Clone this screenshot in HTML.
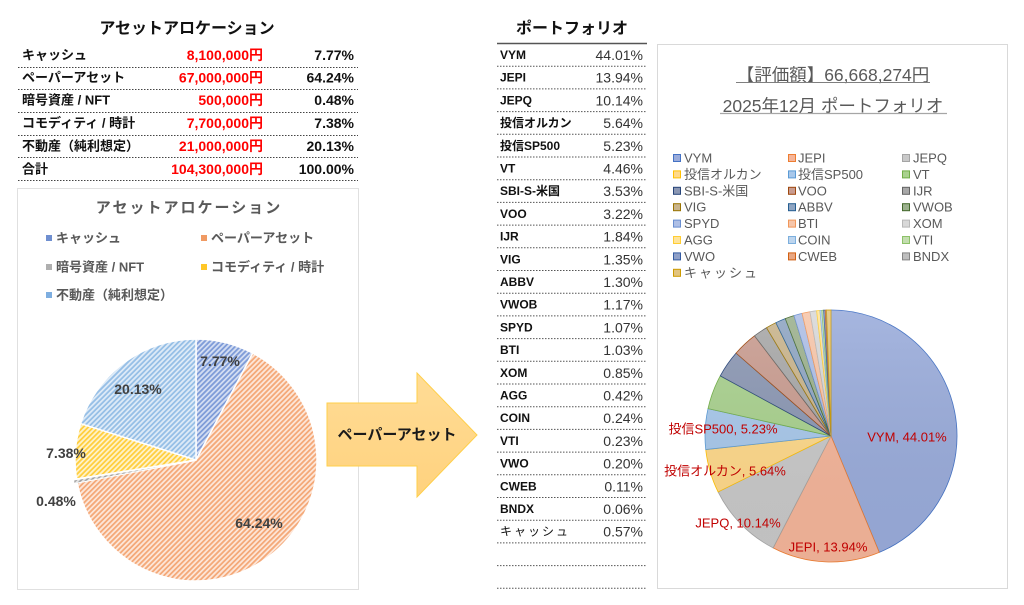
<!DOCTYPE html>
<html><head><meta charset="utf-8"><style>
html,body{margin:0;padding:0;background:#fff;}
svg{display:block;font-family:"Liberation Sans","Noto Sans CJK JP",sans-serif;}
</style></head><body>
<svg width="1024" height="605" viewBox="0 0 1024 605" xmlns="http://www.w3.org/2000/svg">
<defs>
<pattern id="hB" width="3.6" height="3.6" patternUnits="userSpaceOnUse" patternTransform="rotate(45)"><rect width="3.6" height="3.6" fill="#D3DDF2"/><rect width="1.8" height="3.6" fill="#7F9CD8"/></pattern>
<pattern id="hO" width="3.6" height="3.6" patternUnits="userSpaceOnUse" patternTransform="rotate(45)"><rect width="3.6" height="3.6" fill="#FDE6D8"/><rect width="1.8" height="3.6" fill="#F4A979"/></pattern>
<pattern id="hG" width="3.6" height="3.6" patternUnits="userSpaceOnUse" patternTransform="rotate(45)"><rect width="3.6" height="3.6" fill="#E6E6E6"/><rect width="1.8" height="3.6" fill="#A5A5A5"/></pattern>
<pattern id="hY" width="3.6" height="3.6" patternUnits="userSpaceOnUse" patternTransform="rotate(45)"><rect width="3.6" height="3.6" fill="#FFF2C8"/><rect width="1.8" height="3.6" fill="#FFCF40"/></pattern>
<pattern id="hL" width="3.6" height="3.6" patternUnits="userSpaceOnUse" patternTransform="rotate(45)"><rect width="3.6" height="3.6" fill="#DDEAF7"/><rect width="1.8" height="3.6" fill="#96BFE6"/></pattern>
<linearGradient id="arr" x1="0" y1="0" x2="0" y2="1"><stop offset="0" stop-color="#FFDC96"/><stop offset="1" stop-color="#FFD27E"/></linearGradient>
<linearGradient id="shade" x1="0" y1="0" x2="0" y2="1"><stop offset="0" stop-color="#fff" stop-opacity="0.12"/><stop offset="1" stop-color="#000" stop-opacity="0.04"/></linearGradient>
</defs>

<!-- LEFT TABLE -->
<text x="187" y="29" font-size="16" font-weight="bold" fill="#111" text-anchor="middle" dominant-baseline="central">アセットアロケーション</text>
<g font-size="13" font-weight="bold" dominant-baseline="central">
<text x="22" y="55" fill="#111">キャッシュ</text>
<text x="22" y="77.5" fill="#111">ペーパーアセット</text>
<text x="22" y="100" fill="#111">暗号資産 / NFT</text>
<text x="22" y="123" fill="#111">コモディティ / 時計</text>
<text x="22" y="146" fill="#111">不動産（純利想定）</text>
<text x="22" y="169" fill="#111">合計</text>
</g>
<g font-size="14" font-weight="bold" dominant-baseline="central" text-anchor="end">
<text x="263" y="55" fill="#FF0000">8,100,000円</text>
<text x="354" y="55" fill="#111">7.77%</text>
<text x="263" y="77.5" fill="#FF0000">67,000,000円</text>
<text x="354" y="77.5" fill="#111">64.24%</text>
<text x="263" y="100" fill="#FF0000">500,000円</text>
<text x="354" y="100" fill="#111">0.48%</text>
<text x="263" y="123" fill="#FF0000">7,700,000円</text>
<text x="354" y="123" fill="#111">7.38%</text>
<text x="263" y="146" fill="#FF0000">21,000,000円</text>
<text x="354" y="146" fill="#111">20.13%</text>
<text x="263" y="169" fill="#FF0000">104,300,000円</text>
<text x="354" y="169" fill="#111">100.00%</text>
</g>
<g stroke="#444" stroke-width="1" stroke-dasharray="1.5,1.5">
<line x1="18" y1="67.5" x2="358" y2="67.5"/>
<line x1="18" y1="89.5" x2="358" y2="89.5"/>
<line x1="18" y1="112.5" x2="358" y2="112.5"/>
<line x1="18" y1="135.5" x2="358" y2="135.5"/>
<line x1="18" y1="157.5" x2="358" y2="157.5"/>
<line x1="18" y1="180.5" x2="358" y2="180.5"/>
</g>

<!-- LEFT CHART -->
<rect x="17.5" y="188.5" width="341" height="401" fill="#fff" stroke="#E0E0E0" stroke-width="1"/>
<text x="189" y="208" font-size="15" font-weight="bold" fill="#595959" text-anchor="middle" dominant-baseline="central" letter-spacing="2">アセットアロケーション</text>
<g font-size="13" font-weight="bold" fill="#595959" dominant-baseline="central">
<rect x="46" y="235" width="6" height="6" fill="#6F8FD0"/><text x="56" y="238">キャッシュ</text>
<rect x="201" y="235" width="6" height="6" fill="#F09A63"/><text x="211" y="238">ペーパーアセット</text>
<rect x="46" y="264" width="6" height="6" fill="#AFAFAF"/><text x="56" y="267">暗号資産 / NFT</text>
<rect x="201" y="264" width="6" height="6" fill="#FFC727"/><text x="211" y="267">コモディティ / 時計</text>
<rect x="46" y="292" width="6" height="6" fill="#7EAEE0"/><text x="56" y="295">不動産（純利想定）</text>
</g>
<g stroke="#fff" stroke-width="1.5" stroke-linejoin="round">
<path d="M196,460 L196,339 A121,121 0 0 1 252.75,353.13 Z" fill="url(#hB)"/>
<path d="M196,460 L252.75,353.13 A121,121 0 1 1 77.13,482.59 Z" fill="url(#hO)"/>
<path d="M193,461 L74.13,483.59 A121,121 0 0 1 73.50,480.01 Z" fill="url(#hG)" stroke="#fff" stroke-width="1"/>
<path d="M196,460 L76.50,479.01 A121,121 0 0 1 80.61,423.55 Z" fill="url(#hY)"/>
<path d="M196,460 L80.61,423.55 A121,121 0 0 1 196,339 Z" fill="url(#hL)"/>
</g>
<g font-size="14" font-weight="bold" fill="#404040" text-anchor="middle" dominant-baseline="central">
<text x="220" y="361">7.77%</text>
<text x="138" y="389">20.13%</text>
<text x="66" y="453">7.38%</text>
<text x="56" y="501">0.48%</text>
<text x="259" y="523">64.24%</text>
</g>

<!-- ARROW -->
<polygon points="327,403 417,403 417,373 477,435 417,497 417,466 327,466" fill="url(#arr)" stroke="#FFCF4A" stroke-width="1"/>
<text x="397" y="435" font-size="15" font-weight="bold" fill="#1a1a1a" text-anchor="middle" dominant-baseline="central">ペーパーアセット</text>

<!-- PORTFOLIO TABLE -->
<text x="572" y="29" font-size="16" font-weight="bold" fill="#111" text-anchor="middle" dominant-baseline="central">ポートフォリオ</text>
<line x1="497" y1="43.5" x2="647" y2="43.5" stroke="#555" stroke-width="1.5"/>
<g font-size="12" font-weight="bold" fill="#111" dominant-baseline="central">
<text x="500" y="55">VYM</text>
<text x="500" y="77.7">JEPI</text>
<text x="500" y="100.4">JEPQ</text>
<text x="500" y="123.1">投信オルカン</text>
<text x="500" y="145.8">投信SP500</text>
<text x="500" y="168.5">VT</text>
<text x="500" y="191.2">SBI-S-米国</text>
<text x="500" y="213.9">VOO</text>
<text x="500" y="236.6">IJR</text>
<text x="500" y="259.3">VIG</text>
<text x="500" y="282">ABBV</text>
<text x="500" y="304.7">VWOB</text>
<text x="500" y="327.4">SPYD</text>
<text x="500" y="350.1">BTI</text>
<text x="500" y="372.8">XOM</text>
<text x="500" y="395.5">AGG</text>
<text x="500" y="418.2">COIN</text>
<text x="500" y="440.9">VTI</text>
<text x="500" y="463.6">VWO</text>
<text x="500" y="486.3">CWEB</text>
<text x="500" y="509">BNDX</text>
<text x="500" y="531.7" font-weight="normal" letter-spacing="2">キャッシュ</text>
</g>
<g font-size="14" fill="#333" text-anchor="end" dominant-baseline="central">
<text x="643" y="55">44.01%</text>
<text x="643" y="77.7">13.94%</text>
<text x="643" y="100.4">10.14%</text>
<text x="643" y="123.1">5.64%</text>
<text x="643" y="145.8">5.23%</text>
<text x="643" y="168.5">4.46%</text>
<text x="643" y="191.2">3.53%</text>
<text x="643" y="213.9">3.22%</text>
<text x="643" y="236.6">1.84%</text>
<text x="643" y="259.3">1.35%</text>
<text x="643" y="282">1.30%</text>
<text x="643" y="304.7">1.17%</text>
<text x="643" y="327.4">1.07%</text>
<text x="643" y="350.1">1.03%</text>
<text x="643" y="372.8">0.85%</text>
<text x="643" y="395.5">0.42%</text>
<text x="643" y="418.2">0.24%</text>
<text x="643" y="440.9">0.23%</text>
<text x="643" y="463.6">0.20%</text>
<text x="643" y="486.3">0.11%</text>
<text x="643" y="509">0.06%</text>
<text x="643" y="531.7">0.57%</text>
</g>
<g stroke="#555" stroke-width="1" stroke-dasharray="1.5,1.5">
<line x1="497" y1="66.2" x2="647" y2="66.2"/>
<line x1="497" y1="88.9" x2="647" y2="88.9"/>
<line x1="497" y1="111.6" x2="647" y2="111.6"/>
<line x1="497" y1="134.3" x2="647" y2="134.3"/>
<line x1="497" y1="157" x2="647" y2="157"/>
<line x1="497" y1="179.7" x2="647" y2="179.7"/>
<line x1="497" y1="202.4" x2="647" y2="202.4"/>
<line x1="497" y1="225.1" x2="647" y2="225.1"/>
<line x1="497" y1="247.8" x2="647" y2="247.8"/>
<line x1="497" y1="270.5" x2="647" y2="270.5"/>
<line x1="497" y1="293.2" x2="647" y2="293.2"/>
<line x1="497" y1="315.9" x2="647" y2="315.9"/>
<line x1="497" y1="338.6" x2="647" y2="338.6"/>
<line x1="497" y1="361.3" x2="647" y2="361.3"/>
<line x1="497" y1="384" x2="647" y2="384"/>
<line x1="497" y1="406.7" x2="647" y2="406.7"/>
<line x1="497" y1="429.4" x2="647" y2="429.4"/>
<line x1="497" y1="452.1" x2="647" y2="452.1"/>
<line x1="497" y1="474.8" x2="647" y2="474.8"/>
<line x1="497" y1="497.5" x2="647" y2="497.5"/>
<line x1="497" y1="520.2" x2="647" y2="520.2"/>
<line x1="497" y1="542.9" x2="647" y2="542.9"/>
<line x1="497" y1="565.6" x2="647" y2="565.6"/>
<line x1="497" y1="588.3" x2="647" y2="588.3"/>
</g>

<!-- RIGHT CHART -->
<rect x="657.5" y="44.5" width="350" height="544" fill="#fff" stroke="#D9D9D9" stroke-width="1"/>
<text x="833" y="75" font-size="17.5" fill="#595959" text-anchor="middle" dominant-baseline="central">【評価額】66,668,274円</text>
<line x1="736" y1="82.5" x2="930" y2="82.5" stroke="#7f7f7f" stroke-width="1"/>
<text x="833" y="106" font-size="17.5" fill="#595959" text-anchor="middle" dominant-baseline="central">2025年12月 ポートフォリオ</text>
<line x1="720" y1="113.5" x2="947" y2="113.5" stroke="#a6a6a6" stroke-width="1.2"/>

<g font-size="13" fill="#595959" dominant-baseline="central" stroke-width="1">
<rect x="673.5" y="154.5" width="7" height="7" fill="#9AACDB" stroke="#4472C4"/><text x="684" y="158">VYM</text>
<rect x="788.5" y="154.5" width="7" height="7" fill="#F5B59A" stroke="#ED7D31"/><text x="798" y="158">JEPI</text>
<rect x="902.5" y="154.5" width="7" height="7" fill="#C9C9C9" stroke="#A5A5A5"/><text x="913" y="158">JEPQ</text>
<rect x="673.5" y="170.9" width="7" height="7" fill="#FFD98A" stroke="#FFC000"/><text x="684" y="174.4">投信オルカン</text>
<rect x="788.5" y="170.9" width="7" height="7" fill="#A8C8EB" stroke="#5B9BD5"/><text x="798" y="174.4">投信SP500</text>
<rect x="902.5" y="170.9" width="7" height="7" fill="#A9D18E" stroke="#70AD47"/><text x="913" y="174.4">VT</text>
<rect x="673.5" y="187.3" width="7" height="7" fill="#8B97B3" stroke="#264478"/><text x="684" y="190.8">SBI-S-米国</text>
<rect x="788.5" y="187.3" width="7" height="7" fill="#C99C90" stroke="#9E480E"/><text x="798" y="190.8">VOO</text>
<rect x="902.5" y="187.3" width="7" height="7" fill="#A8A8A8" stroke="#636363"/><text x="913" y="190.8">IJR</text>
<rect x="673.5" y="203.7" width="7" height="7" fill="#C9B48C" stroke="#997300"/><text x="684" y="207.2">VIG</text>
<rect x="788.5" y="203.7" width="7" height="7" fill="#8FA5C2" stroke="#255E91"/><text x="798" y="207.2">ABBV</text>
<rect x="902.5" y="203.7" width="7" height="7" fill="#9CB18E" stroke="#43682B"/><text x="913" y="207.2">VWOB</text>
<rect x="673.5" y="220.1" width="7" height="7" fill="#AEBFE6" stroke="#698ED0"/><text x="684" y="223.6">SPYD</text>
<rect x="788.5" y="220.1" width="7" height="7" fill="#F7C6AA" stroke="#F1975A"/><text x="798" y="223.6">BTI</text>
<rect x="902.5" y="220.1" width="7" height="7" fill="#D8D8D8" stroke="#B7B7B7"/><text x="913" y="223.6">XOM</text>
<rect x="673.5" y="236.5" width="7" height="7" fill="#FFE49A" stroke="#FFCD33"/><text x="684" y="240">AGG</text>
<rect x="788.5" y="236.5" width="7" height="7" fill="#BDD5EE" stroke="#7CAFDD"/><text x="798" y="240">COIN</text>
<rect x="902.5" y="236.5" width="7" height="7" fill="#C3DDAF" stroke="#8CC168"/><text x="913" y="240">VTI</text>
<rect x="673.5" y="252.9" width="7" height="7" fill="#8FA0C8" stroke="#335AA1"/><text x="684" y="256.4">VWO</text>
<rect x="788.5" y="252.9" width="7" height="7" fill="#E8A783" stroke="#D26012"/><text x="798" y="256.4">CWEB</text>
<rect x="902.5" y="252.9" width="7" height="7" fill="#BEBEBE" stroke="#848484"/><text x="913" y="256.4">BNDX</text>
<rect x="673.5" y="269.3" width="7" height="7" fill="#E2C47F" stroke="#CC9A00"/><text x="684" y="272.8" letter-spacing="2">キャッシュ</text>
</g>

<g stroke-width="0.8" stroke-linejoin="round">
<path d="M831,436 L831,310 A126,126 0 0 1 879.28,552.39 Z" fill="#9AACDB" stroke="#4472C4"/>
<path d="M831,436 L879.28,552.39 A126,126 0 0 1 773.09,547.90 Z" fill="#F5B59A" stroke="#ED7D31"/>
<path d="M831,436 L773.09,547.90 A126,126 0 0 1 718.10,491.94 Z" fill="#C9C9C9" stroke="#A5A5A5"/>
<path d="M831,436 L718.10,491.94 A126,126 0 0 1 705.73,449.57 Z" fill="#FFD98A" stroke="#FFC000"/>
<path d="M831,436 L705.73,449.57 A126,126 0 0 1 708.00,408.67 Z" fill="#A8C8EB" stroke="#5B9BD5"/>
<path d="M831,436 L708.00,408.67 A126,126 0 0 1 720.25,375.90 Z" fill="#A9D18E" stroke="#70AD47"/>
<path d="M831,436 L720.25,375.90 A126,126 0 0 1 736.08,353.13 Z" fill="#8B97B3" stroke="#264478"/>
<path d="M831,436 L736.08,353.13 A126,126 0 0 1 754.54,335.86 Z" fill="#C99C90" stroke="#9E480E"/>
<path d="M831,436 L754.54,335.86 A126,126 0 0 1 766.54,327.74 Z" fill="#A8A8A8" stroke="#636363"/>
<path d="M831,436 L766.54,327.74 A126,126 0 0 1 775.87,322.70 Z" fill="#C9B48C" stroke="#997300"/>
<path d="M831,436 L775.87,322.70 A126,126 0 0 1 785.25,318.59 Z" fill="#8FA5C2" stroke="#255E91"/>
<path d="M831,436 L785.25,318.59 A126,126 0 0 1 793.96,315.57 Z" fill="#9CB18E" stroke="#43682B"/>
<path d="M831,436 L793.96,315.57 A126,126 0 0 1 802.07,313.36 Z" fill="#AEBFE6" stroke="#698ED0"/>
<path d="M831,436 L802.07,313.36 A126,126 0 0 1 810.01,311.76 Z" fill="#F7C6AA" stroke="#F1975A"/>
<path d="M831,436 L810.01,311.76 A126,126 0 0 1 816.62,310.82 Z" fill="#D8D8D8" stroke="#B7B7B7"/>
<path d="M831,436 L816.62,310.82 A126,126 0 0 1 819.93,310.49 Z" fill="#FFE49A" stroke="#FFCD33"/>
<path d="M831,436 L819.93,310.49 A126,126 0 0 1 821.79,310.34 Z" fill="#BDD5EE" stroke="#7CAFDD"/>
<path d="M831,436 L821.79,310.34 A126,126 0 0 1 823.62,310.21 Z" fill="#C3DDAF" stroke="#8CC168"/>
<path d="M831,436 L823.62,310.21 A126,126 0 0 1 825.18,310.14 Z" fill="#8FA0C8" stroke="#335AA1"/>
<path d="M831,436 L825.18,310.14 A126,126 0 0 1 826.05,310.10 Z" fill="#E8A783" stroke="#D26012"/>
<path d="M831,436 L826.05,310.10 A126,126 0 0 1 826.51,310.08 Z" fill="#BEBEBE" stroke="#848484"/>
<path d="M831,436 L826.51,310.08 A126,126 0 0 1 831,310 Z" fill="#E2C47F" stroke="#CC9A00"/>
</g>
<circle cx="831" cy="436" r="126" fill="url(#shade)"/>
<g font-size="13" fill="#C00000" text-anchor="middle" dominant-baseline="central">
<text x="907" y="437">VYM, 44.01%</text>
<text x="828" y="547">JEPI, 13.94%</text>
<text x="738" y="523">JEPQ, 10.14%</text>
<text x="725" y="471">投信オルカン, 5.64%</text>
<text x="723" y="429">投信SP500, 5.23%</text>
</g>
</svg>
</body></html>
